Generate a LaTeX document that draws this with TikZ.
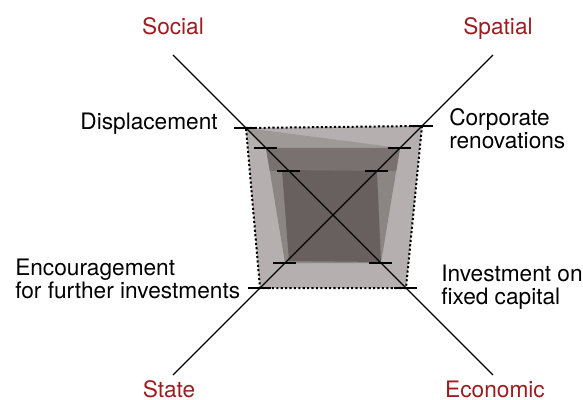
\documentclass[tikz,border=0pt]{standalone}
\usepackage{fontspec}
\setmainfont{TeX Gyre Heros}
\usetikzlibrary{calc, positioning}
\definecolor{axisred}{RGB}{158,27,32}
\definecolor{shadeA}{RGB}{181,176,175}
\definecolor{shadeD}{RGB}{158,153,151}
\definecolor{shadeB}{RGB}{139,133,131}
\definecolor{shadeBD}{RGB}{120,113,111}
\definecolor{shadeC}{RGB}{104,96,94}

\begin{document}
\begin{tikzpicture}
        [x=0.75pt, y=0.75pt,
         axissty/.style={line width=1pt, draw=black},
         ticksty/.style={line width=1.1pt, draw=black},
         bordersty/.style={line width=1.5pt,
                           dash pattern=on 1.6pt off 1.7pt,
                           draw=black},
         dimsty/.style={font=\fontsize{17}{17.3}\selectfont,
                        text=axisred,
                        inner sep=0pt},
         itemsty/.style={font=\fontsize{17}{17.3}\selectfont,
                         text=black,
                         inner sep=0pt}]

        \useasboundingbox (-333, -185) rectangle (250, 215);

        % axis ends and marks along the axes
        \coordinate (centre) at (0, 0);
        \coordinate (social end) at (-160, 160);
        \coordinate (spatial end) at (160, 160);
        \coordinate (state end) at (-160, -160);
        \coordinate (economic end) at (160, -160);

        \coordinate (soc 1) at (-87, 87);
        \coordinate (soc 2) at (-67, 67);
        \coordinate (soc 3) at (-44, 44);
        \coordinate (spa 1) at (89, 89);
        \coordinate (spa 2) at (67, 67);
        \coordinate (spa 3) at (44, 44);
        \coordinate (sta 1) at (-73, -73);
        \coordinate (sta 2) at (-48, -48);
        \coordinate (eco 1) at (73, -73);
        \coordinate (eco 2) at (48, -48);
        \newcommand{\tickhalf}{11.5}

        % shaded areas
        \fill[shadeA] (soc 1) -- (spa 1) -- (eco 1) -- (sta 1) -- cycle;
        \fill[shadeB] (soc 2) -- (spa 2) -- (eco 2) -- (sta 2) -- cycle;
        \fill[shadeD] (soc 1) -- (spa 2) -- (soc 2) -- cycle;
        \fill[shadeBD] (soc 2) -- (spa 2) -- (63.2, 44) -- (-63.2, 44) -- cycle;
        \fill[shadeC] (-51, 45) -- (spa 3) -- (48, -47) -- (-44, -46) -- cycle;
        \draw[bordersty] (soc 1) -- (spa 1) -- (eco 1) -- (sta 1) -- cycle;

        % axes
        \draw[axissty] (social end) -- (economic end);
        \draw[axissty] (spatial end) -- (state end);

        \foreach \mk in {soc 1, soc 2, soc 3, spa 1, spa 2, spa 3,
                         sta 1, sta 2, eco 1, eco 2}
                \draw[ticksty] ($(\mk) + (-\tickhalf, 0)$) -- ($(\mk) + (\tickhalf, 0)$);

        % dimension names
        \node[dimsty, anchor=base] (social) at (-160, 180) {Social};
        \node[dimsty, anchor=base] (spatial) at (165, 180) {Spatial};
        \node[dimsty, anchor=base] (state) at (-164, -182) {State};
        \node[dimsty, anchor=base] (economic) at (162, -182) {Economic};

        % items
        \node[itemsty, anchor=base east] (displacement) at (-115, 85) {Displacement};
        \node[itemsty, anchor=west, align=left] (corporate) at (116, 86)
                {Corporate\\renovations};
        \node[itemsty, anchor=west, align=left] (encouragement) at (-318, -64)
                {Encouragement\\for further investments};
        \node[itemsty, anchor=west, align=left] (investment) at (108, -72)
                {Investment on\\fixed capital};
\end{tikzpicture}
\end{document}
